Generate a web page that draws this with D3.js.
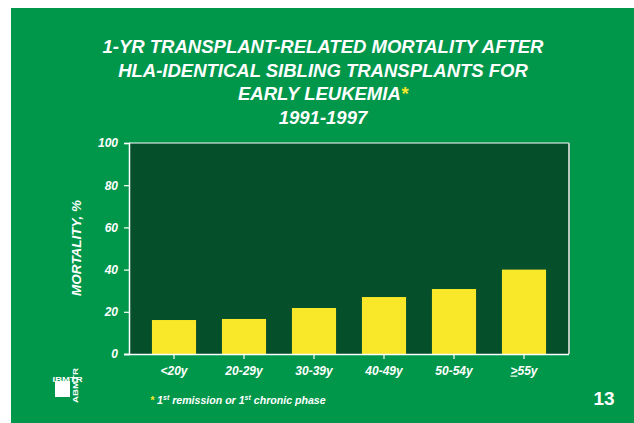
<!DOCTYPE html>
<html>
<head>
<meta charset="utf-8">
<script src="https://cdn.jsdelivr.net/npm/d3@7"></script>
<style>
  body { margin: 0; background: #fff; }
  text { font-family: "Liberation Sans", Arial, sans-serif; }
</style>
</head>
<body>
<div id="chart"></div>
<script>
// data
const ageGroups = ["<20y", "20-29y", "30-39y", "40-49y", "50-54y", "55y"];
const mortality = [16.1, 16.6, 21.8, 27, 30.8, 40];
const yTicks = [0, 20, 40, 60, 80, 100];
const titleLines = ["1-YR TRANSPLANT-RELATED MORTALITY AFTER", "HLA-IDENTICAL SIBLING TRANSPLANTS FOR", "EARLY LEUKEMIA", "1991-1997"];

const width = 634, height = 423;
const plot = {left: 129, right: 569, top: 143, bottom: 354};

const svg = d3.select("#chart")
    .append("svg")
    .attr("width", width)
    .attr("height", height);

// slide background
svg.append("rect")
    .attr("x", 11).attr("y", 8)
    .attr("width", width - 11).attr("height", height - 8)
    .attr("fill", "#00974b");

// title
svg.append("g").selectAll("text")
    .data(titleLines)
    .join("text")
    .attr("x", 323)
    .attr("y", (d, i) => 53 + i * 23.5)
    .attr("text-anchor", "middle")
    .attr("fill", "#fff")
    .attr("font-size", "18.5px")
    .attr("font-weight", "bold")
    .attr("font-style", "italic")
    .each(function(d, i) {
        d3.select(this).append("tspan").text(d);
        if (i == 2) d3.select(this).append("tspan").attr("fill", "#f5e82a").text("*");
    });

var xScale = d3.scaleBand()
    .domain(ageGroups)
    .range([139, 559])
    .paddingInner(0.37)
    .paddingOuter(0.185);
var yScale = d3.scaleLinear().domain([0, 100]).range([plot.bottom, plot.top]);

// plot area
svg.append("rect")
    .attr("x", plot.left).attr("y", plot.top)
    .attr("width", plot.right - plot.left).attr("height", plot.bottom - plot.top)
    .attr("fill", "#064f2b");

// bars
svg.append("g")
    .selectAll("rect")
    .data(mortality)
    .join("rect")
    .attr("x", (d, i) => xScale(ageGroups[i]))
    .attr("y", d => yScale(d))
    .attr("width", xScale.bandwidth())
    .attr("height", d => plot.bottom - yScale(d))
    .attr("fill", "#f8e829");

// frame: top and right
svg.append("line")
    .attr("x1", plot.left).attr("x2", plot.right)
    .attr("y1", plot.top).attr("y2", plot.top)
    .attr("stroke", "#fff").attr("stroke-width", 1.2);
svg.append("line")
    .attr("x1", plot.right).attr("x2", plot.right)
    .attr("y1", plot.top).attr("y2", plot.bottom)
    .attr("stroke", "#b8c8bc").attr("stroke-width", 2);

// y axis
const yAxis = svg.append("g")
    .attr("transform", `translate(${plot.left},0)`)
    .call(d3.axisLeft(yScale).tickValues(yTicks).tickSize(5).tickPadding(6));
yAxis.select(".domain").attr("stroke", "#fff").attr("stroke-width", 1.5);
yAxis.selectAll(".tick line").attr("stroke", "#fff").attr("stroke-width", 1.2);
yAxis.selectAll(".tick text")
    .attr("fill", "#fff").attr("font-size", "12px")
    .attr("font-weight", "bold").attr("font-style", "italic")
    .attr("font-family", "Liberation Sans, Arial, sans-serif");

// x axis
const xAxis = svg.append("g")
    .attr("transform", `translate(0,${plot.bottom})`)
    .call(d3.axisBottom(xScale).tickSize(5).tickPadding(7).tickSizeOuter(0));
xAxis.select(".domain").attr("d", `M${plot.left - 5},0.5H${plot.right}`)
    .attr("stroke", "#fff").attr("stroke-width", 1.5);
xAxis.selectAll(".tick line").attr("stroke", "#fff").attr("stroke-width", 1.2);
xAxis.selectAll(".tick text")
    .attr("fill", "#fff").attr("font-size", "12px")
    .attr("font-weight", "bold").attr("font-style", "italic")
    .attr("font-family", "Liberation Sans, Arial, sans-serif")
    .text(null)
    .each(function(d, i) {
        if (i == ageGroups.length - 1) {
            d3.select(this).append("tspan").attr("text-decoration", "underline").text(">");
        }
        d3.select(this).append("tspan").text(d);
    });

// y label
svg.append("text")
    .attr("transform", "translate(81,248) rotate(-90)")
    .attr("text-anchor", "middle")
    .attr("fill", "#fff")
    .attr("font-size", "13.5px")
    .attr("font-weight", "bold")
    .attr("font-style", "italic")
    .text("MORTALITY, %");

// footnote
const foot = svg.append("text")
    .attr("x", 150).attr("y", 404)
    .attr("fill", "#fff")
    .attr("font-size", "10.6px")
    .attr("font-weight", "bold")
    .attr("font-style", "italic");
foot.append("tspan").attr("fill", "#f5e82a").text("* ");
foot.append("tspan").text("1");
foot.append("tspan").attr("font-size", "7px").attr("dy", -4).text("st");
foot.append("tspan").attr("dy", 4).text(" remission or 1");
foot.append("tspan").attr("font-size", "7px").attr("dy", -4).text("st");
foot.append("tspan").attr("dy", 4).text(" chronic phase");

// page number
svg.append("text")
    .attr("x", 604).attr("y", 405)
    .attr("text-anchor", "middle")
    .attr("fill", "#fff")
    .attr("font-size", "19px")
    .attr("font-weight", "bold")
    .text("13");

// logo
const logo = svg.append("g");
logo.append("rect")
    .attr("x", 55).attr("y", 381).attr("width", 15).attr("height", 16)
    .attr("fill", "#fff");
logo.append("text")
    .attr("x", 52.5).attr("y", 381.5)
    .attr("fill", "#fff").attr("font-size", "8px").attr("font-weight", "bold")
    .attr("textLength", 30).attr("lengthAdjust", "spacingAndGlyphs")
    .text("IBMTR");
logo.append("text")
    .attr("transform", "translate(77.5,403) rotate(-90)")
    .attr("fill", "#fff").attr("font-size", "8px").attr("font-weight", "bold")
    .attr("textLength", 35).attr("lengthAdjust", "spacingAndGlyphs")
    .text("ABMTR");
</script>
</body>
</html>
